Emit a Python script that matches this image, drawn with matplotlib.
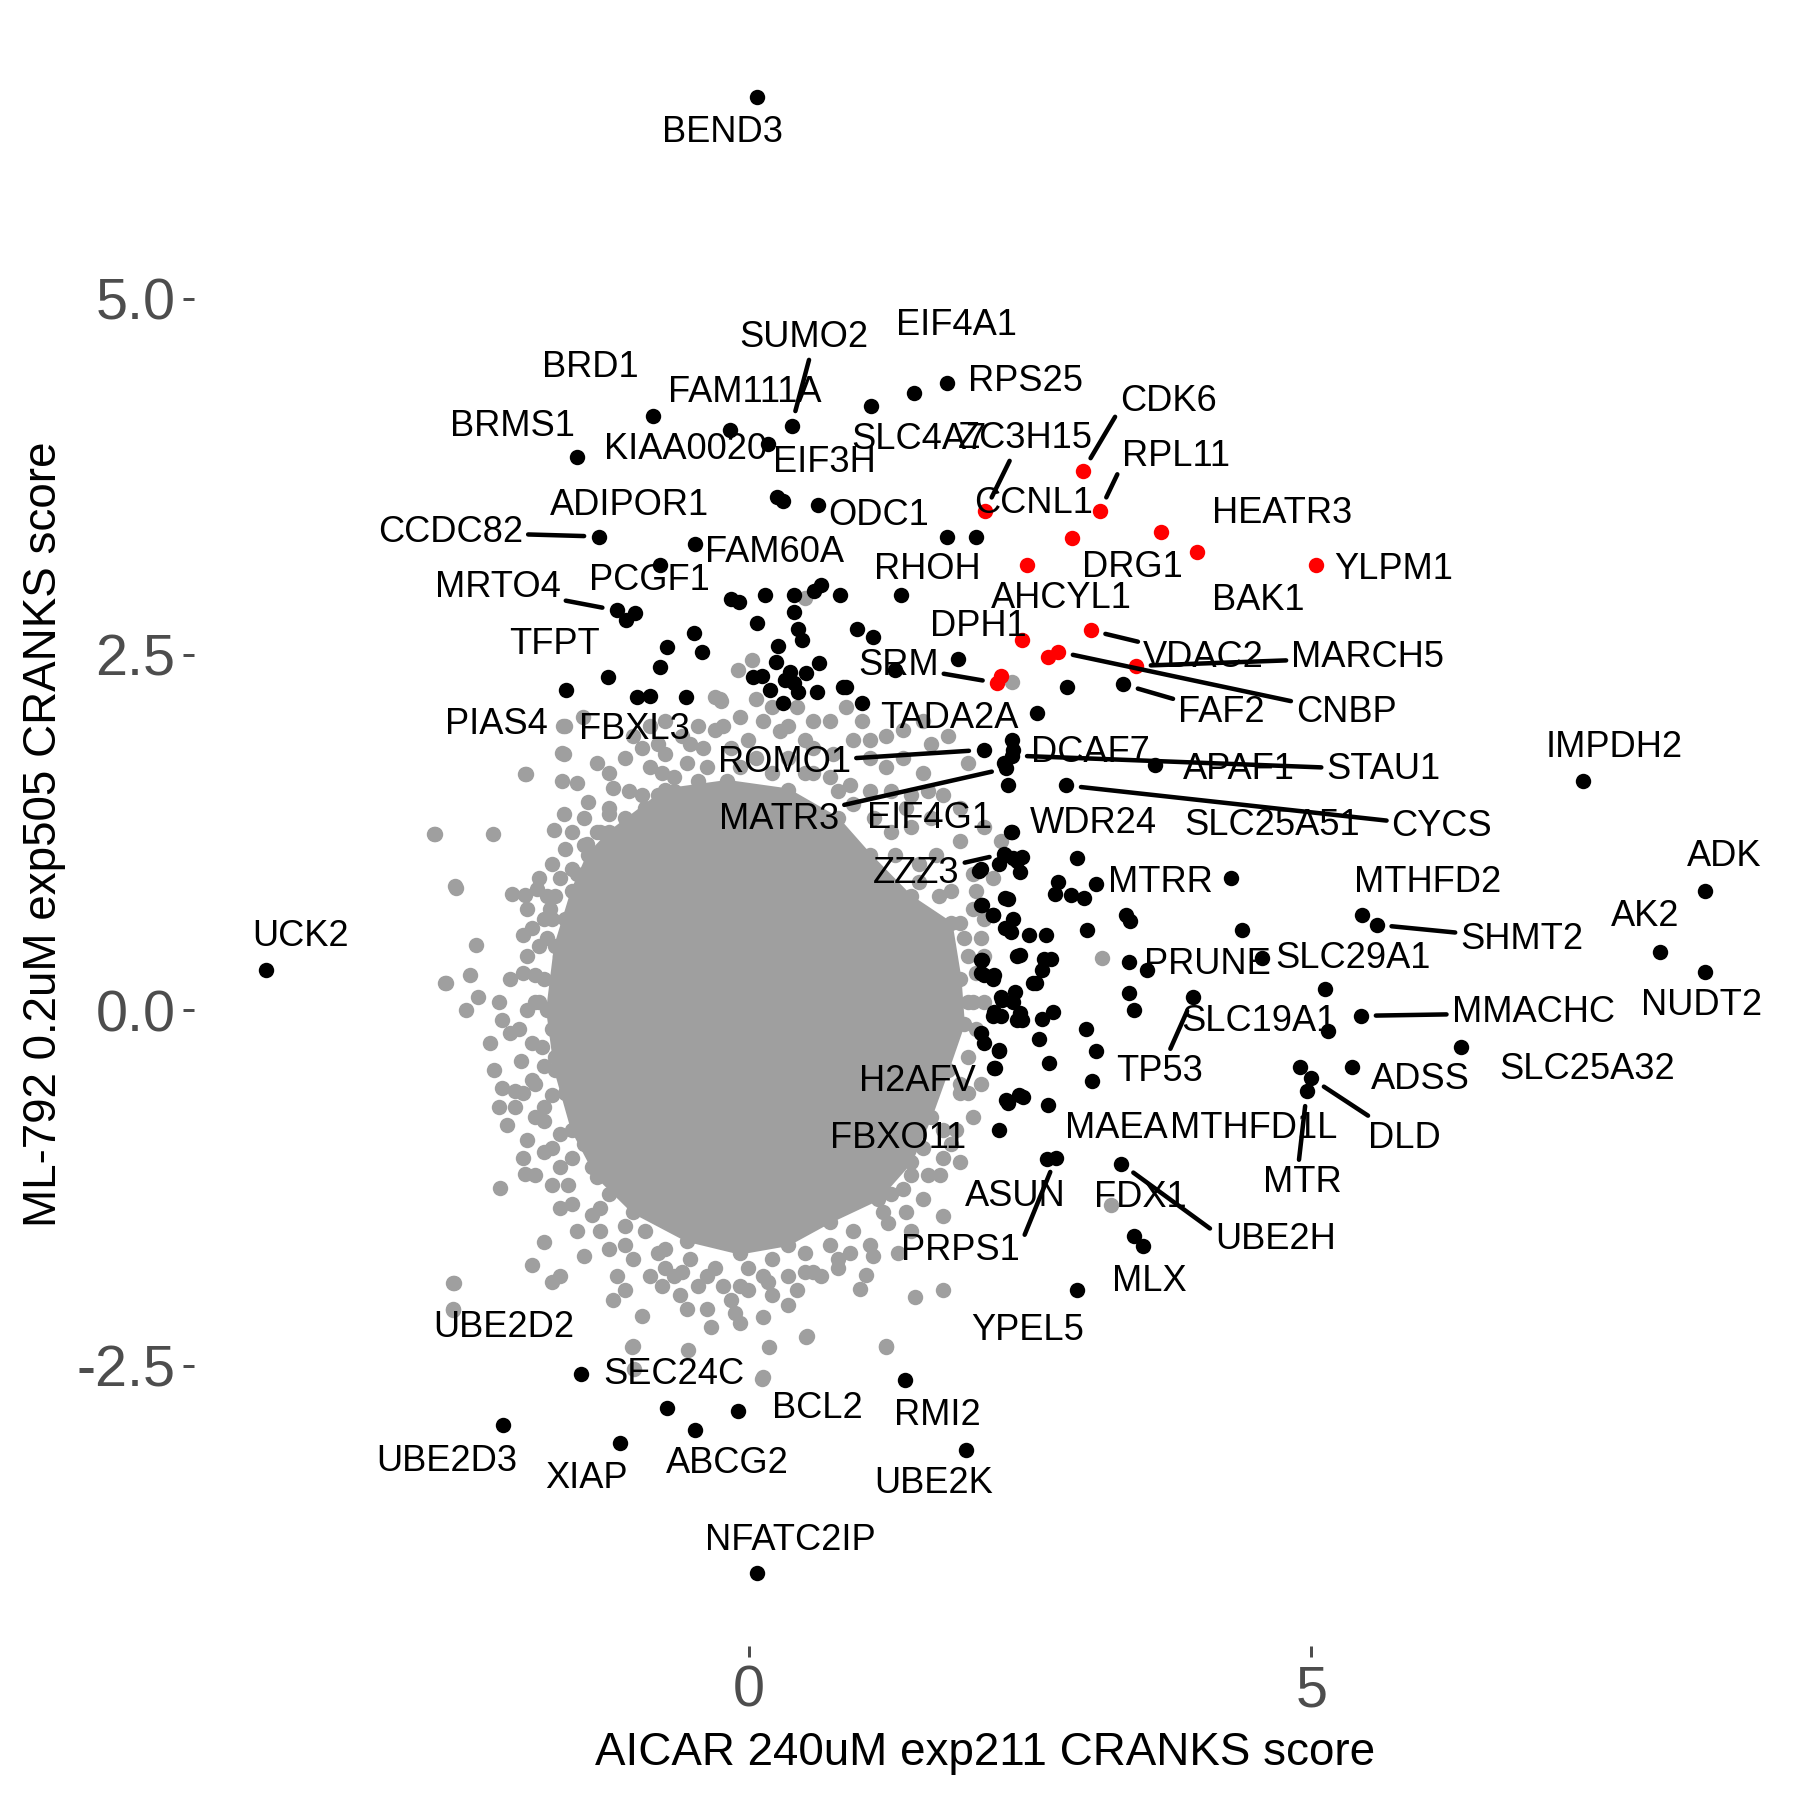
import matplotlib
matplotlib.use("Agg")
import matplotlib.pyplot as plt

plt.rcParams['font.family'] = ['Liberation Sans', 'DejaVu Sans']

GRAY = '#9F9F9F'

# ---------------- data ----------------
# dense core of the background (non-hit) genes: outline of the solid gray blob
core_x = [-1.24, -0.74, -0.19, 0.35, 0.79, 1.08, 1.44, 1.80, 1.88, 1.91, 1.77, 1.62, 1.44,
          1.15, 0.72, 0.35, -0.08, -0.55, -1.03, -1.35, -1.57, -1.72, -1.79, -1.72, -1.57, -1.43]
core_y = [1.25, 1.55, 1.61, 1.55, 1.35, 1.09, 0.80, 0.61, 0.22, -0.10, -0.42, -0.75, -1.07,
          -1.33, -1.49, -1.65, -1.71, -1.62, -1.42, -1.17, -0.84, -0.42, 0.00, 0.45, 0.84, 1.09]

# scattered background (gray) genes
gray_x = [-2.80, -2.60, -2.70, -2.42, -2.48, -2.51, -2.41, -2.21, -2.63, -2.63, -1.99, -1.66,
          -1.53, -1.63, -1.64, -1.35, -1.21, -1.43, -1.73, -1.35, -1.63, -1.44, -1.86, -1.68,
          -2.10, -1.99, -1.88, -1.79, -1.77, -2.01, -1.93, -1.75, -2.12, -2.01, -2.22, -2.19,
          -2.30, -2.12, -2.02, -2.26, -2.19, -2.08, -1.93, -2.22, -2.08, -2.15, -1.90, -2.01,
          -1.82, -1.99, -1.68, -1.57, -1.39, -1.82, -1.93, -1.75, -1.68, -1.46, -1.24, -1.17,
          -1.21, -1.10, -0.95, -1.03, -0.77, -0.66, -0.61, -0.55, -0.37, -0.34, -0.12, -0.08,
          0.13, 0.35, 0.52, 0.13, -0.23, -0.01, 0.17, 0.35, 0.57, 0.79, 1.04, 0.99, 1.24,
          1.37, 1.55, 1.70, 1.73, 1.48, 1.22, 1.10, 1.19, 1.80, 1.88, 1.95, 2.06, 1.99, 1.95,
          1.88, 1.99, 2.17, 2.24, 2.09, 1.88, 1.73, 1.55, 1.37, 1.22, 1.08, 0.90, 0.72, 0.93,
          1.08, 1.01, 0.72, 0.50, 0.28, 0.13, 0.43, 0.06, -0.26, -0.16, -0.41, -0.55, -0.66,
          -0.95, -1.10, -0.77, 1.95, 1.77, 1.55, 1.62, 1.66, 1.44, 1.26, 1.51, 1.80,
          -1.63, -1.57, -1.68, -1.82, -1.86, -1.75, -1.84, -1.72, -1.63, -1.75, -1.53, -1.68,
          -1.46, -1.57, -1.39, -1.24, -1.10, -0.92, -0.74, -0.52, -0.30, -0.01, 0.21, 0.50,
          0.72, 0.93, 1.26, 1.44, 1.55, 1.73, 1.88, 1.95, 1.91, 1.69, 1.51, 1.30, 1.11, 0.93,
          0.57, 0.21, -0.08, -0.37, -0.66, -0.92, -1.10, -1.24, -1.35, -1.53,
          0.03, -0.10, 0.50, -0.30, -0.25, -1.47, -1.65, -1.66, -1.98, -2.79, -2.27, -2.62,
          -2.63, -1.04, -0.54, -1.02, 1.22, 0.51, 0.18, 0.12, 2.34, 3.14, 3.22, -2.61, -2.69,
          -1.03, -0.88, -0.74, -0.59, -0.45, -0.30, -0.08, 0.21, 0.35, 0.57, 0.75, 1.22, 1.37,
          1.44, 1.62, 1.88, 1.99, 2.06, 2.09, 2.06, 1.99, 1.88, 1.73, 1.44, 1.33, 0.90, 0.64,
          0.425, 0.21, -0.16, -0.45, -0.74, -0.88, -1.03, -1.32, -1.53, -1.68, -1.75, -1.90,
          -1.97, -1.82, -2.01, -1.93, -2.04, -1.90, -1.97, -1.86, -1.82, -1.97, -1.75, -1.57,
          -1.24, -1.06, -0.88, -0.74, -1.64, -1.46,
          -1.24, -0.95, -0.81, -0.52, -0.23, -0.01, 0.35, 0.57, 0.86, 1.08, 1.26, 1.40, 1.59,
          -0.45, 0.06, 0.50, 0.79, -0.81,
          2.02, 2.09, 2.02, 2.09, 2.02, 1.95, 1.84, 1.73, 1.59, 1.40,
          1.08, 0.79, 0.50, 0.13, -0.08, -0.37, -0.59, -0.81, -1.10, -1.32,
          -1.61, -1.75, -1.82, -1.90, -1.82, -1.97, -1.90, -1.79, -1.72, -1.57, -1.46, -1.32]
gray_y = [1.24, 0.86, 0.19, 0.46, 0.25, 0.00, 0.09, -1.25, -1.92, -2.10, 1.66, 1.61,
          1.60, 2.00, 1.80, 1.74, 1.56, 1.46, 1.27, 1.25, 1.13, 1.17, 0.93, 0.93,
          0.82, 0.81, 0.85, 0.80, 0.71, 0.53, 0.58, 0.64, 0.22, 0.26, 0.06, -0.07,
          -0.23, -0.16, -0.36, -0.42, -0.55, -0.57, -0.49, -0.68, -0.68, -0.81, -0.75, -1.04,
          -1.00, -1.15, -1.10, -1.36, -1.44, -1.63, -1.79, -1.91, -1.87, -1.73, -1.68, -1.87,
          -2.04, -1.97, -2.15, -2.36, -1.94, -1.87, -2.00, -2.10, -2.10, -2.23, -2.13, -2.20,
          -2.16, -2.07, -2.29, -2.58, -1.94, -1.97, -1.91, -1.87, -1.84, -1.81, -1.86, -1.96, -1.50,
          -1.26, -1.33, -1.16, -1.97, -2.02, -2.36, -1.73, -1.42, -0.94, -0.58, -0.33, -0.16, 0.06, 0.38,
          0.61, 0.71, 0.93, 1.19, 1.29, 1.42, 1.51, 1.67, 1.77, 1.71, 1.54, 1.58, 1.64, 1.90,
          1.90, 2.03, 2.03, 1.90, 1.96, 2.03, 2.13, 2.19, 2.19, 1.84, 1.84, 1.74, 1.54,
          1.51, 1.77, 1.67, 1.74, 1.93, 2.03, 1.87, 1.09, 1.29, 1.25, 0.90, 0.84,
          0.64, 0.51, 0.38, 0.22, 0.06, -0.13, -0.26, -0.33, -0.58, -0.60, -0.75, -0.87,
          -0.94, -1.04, -1.10, -1.29, -1.52, -1.55, -1.68, -1.75, -1.81, -1.81, -1.75, -1.71,
          -1.65, -1.55, -1.29, -1.16, -0.97, -0.84, -0.52, 0.06, 0.51, 0.80, 1.03, 1.09, 1.35, 1.45,
          1.67, 1.67, 1.71, 1.71, 1.64, 1.42, 1.35, 1.42, 1.03, 0.96,
          2.46, 2.39, 2.90, 2.20, 2.17, 2.06, 2.00, 1.81, 1.66, 1.24, 1.24, -1.92,
          -2.11, -2.37, -2.39, -2.52, -2.37, -2.30, -2.37, -2.59, 2.31, 0.37, -1.37, 0.87, 0.19,
          1.93, 2.00, 2.03, 1.93, 2.00, 1.97, 2.06, 2.13, 1.77, 1.84, 1.80, 1.93, 1.97,
          1.51, 1.35, 1.19, 0.96, 0.51, 0.38, -0.52, -0.75, -1.07, -1.45, -1.55, -1.71, -1.71, -1.87,
          -1.97, -2.00, -2.04, -1.94, -1.81, -1.87, -1.75, -1.55, -1.55, -1.39, -1.23, -1.16,
          -0.91, -0.68, -0.58, -0.23, -0.13, 0.06, 0.38, 0.45, 0.64, 0.71, 1.03, 1.25,
          1.38, 1.54, 1.71, 1.80, 1.38, 1.35,
          1.67, 1.84, 1.87, 1.87, 2.00, 1.90, 2.00, 2.03, 2.13, 1.77, 1.54, 1.42, 1.54,
          1.61, 1.77, 1.67, 1.54, 1.51,
          0.84, 0.64, 0.26, 0.06, -0.13, -0.58, -0.84, -1.04, -1.16, -1.42,
          -1.65, -1.75, -1.84, -1.87, -1.94, -1.87, -1.84, -1.71, -1.65, -1.39,
          -1.23, -0.97, -0.78, -0.52, -0.39, 0.00, 0.25, 0.51, 0.80, 0.99, 1.16, 1.25]

# hits (black)
black_x = [0.07, -0.85, -0.17, 0.17, 0.38, -1.53, 1.09, 1.47, 1.76, 0.25, 0.30, 0.615,
           -1.33, -0.48, -0.79, -1.17, -1.01, -1.09, 1.76, 2.02, 1.35,
           -0.16, -0.09, 0.14, 0.40, 0.58, 0.64, 0.81, 0.40, 0.07, 0.44, 0.47, -0.49, -0.42,
           -0.73, -0.79, 0.26, 0.62, 0.24, 0.04, 0.12, 0.37, 0.32, 0.40, 0.44, 0.51, 0.19,
           0.30, 0.61, 0.84, -1.25, -1.62, -0.99, -0.88, -0.56, 0.96, 1.10, 1.01, 0.86,
           1.86, 1.30, 3.33, 2.83, 2.56, 2.09, 2.34, 2.35, 2.34, 2.27, 2.29, 2.30, 3.61,
           2.82, 2.34, 2.27, 2.22, 2.35, 2.43, 2.41, 2.05, 2.92, 3.09, 2.75, 2.72, 2.86,
           2.98, 4.29, 2.30, 2.07, 2.17, 2.35, 3.35, 3.39, 4.38, 3.01, 2.33, 2.49, 2.64,
           3.38, 3.54, 4.56, 2.41, 2.62, 2.69, 2.61, 2.53, 2.55, 2.07, 2.06, 2.18, 3.38,
           3.42, 3.95, 5.12, 2.37, 2.25, 3.00, 5.15, 2.18, 2.24, 2.41, 2.43, 2.61, 2.70,
           2.58, 2.22, 2.67, 3.09, 3.05, 2.19, 2.30, 2.44, 2.66, 2.22, 4.90, 5.00, 4.96,
           5.36, 2.65, 2.73, 3.31, 3.42, 3.50, 2.92, 1.385, 1.93, 0.07, -0.10, -0.73,
           -0.48, -1.49, -2.18, -1.14, -4.29, 7.41, 8.50, 8.10, 8.50, 5.45, 5.58, 5.44,
           6.33, 2.33, 2.28, 2.38, 2.06, 2.28, 2.06, 2.17, 2.28, 2.38, 2.06, 2.09, 2.17,
           2.24, 2.35, 2.17, 2.38, 2.06, 2.09, 2.22, 2.18, 2.29, 2.40]
black_y = [6.42, 4.18, 4.08, 3.98, 4.11, 3.89, 4.25, 4.34, 4.41, 3.61, 3.58, 3.55,
           3.33, 3.28, 3.13, 2.81, 2.79, 2.74, 3.33, 3.33, 2.92,
           2.89, 2.87, 2.92, 2.92, 2.95, 2.99, 2.92, 2.80, 2.72, 2.68, 2.60, 2.65, 2.52,
           2.55, 2.41, 2.56, 2.44, 2.45, 2.34, 2.35, 2.38, 2.32, 2.30, 2.24, 2.37, 2.25,
           2.16, 2.24, 2.27, 2.34, 2.25, 2.20, 2.21, 2.20, 2.68, 2.62, 2.16, 2.27,
           2.47, 2.39, 2.29, 2.27, 2.09, 1.83, 1.90, 1.83, 1.79, 1.74, 1.70, 1.58, 1.72,
           1.58, 1.25, 1.10, 1.03, 1.07, 1.08, 0.97, 0.98, 1.07, 0.89, 0.90, 0.82, 0.81,
           0.79, 0.93, 0.78, 0.74, 0.67, 0.64, 0.67, 0.63, 0.56, 0.56, 0.55, 0.53, 0.53,
           0.34, 0.28, 0.37, 0.39, 0.36, 0.36, 0.28, 0.19, 0.19, 0.35, 0.26, 0.25, 0.12,
           0.00, 0.09, 0.15, 0.13, 0.07, -0.13, -0.15, -0.01, -0.04, -0.02, -0.07, -0.06, -0.01,
           -0.20, -0.29, -0.37, -0.29, -0.50, -0.41, -0.65, -0.61, -0.67, -0.84, -0.40, -0.48, -0.57,
           -0.40, -1.05, -1.04, -1.08, -1.59, -1.66, -1.97, -2.60, -3.09, -3.96, -2.82, -2.80,
           -2.95, -2.56, -2.92, -3.04, 0.28, 1.61, 0.84, 0.41, 0.27, 0.67, 0.60, -0.04,
           -0.26, 1.25, 1.09, 1.05, 0.99, 0.79, 0.74, 0.67, 0.58, 0.38, 0.35, 0.25, 0.22,
           0.09, 0.06, -0.04, -0.07, -0.16, -0.23, -0.28, -0.41, -0.63, -0.60]

# highlighted hits (red)
red_x = [2.97, 3.12, 2.10, 2.87, 3.66, 3.98, 2.47, 5.04, 2.43, 3.04, 2.75, 2.66, 3.44, 2.24, 2.21]
red_y = [3.79, 3.51, 3.51, 3.32, 3.36, 3.22, 3.13, 3.13, 2.60, 2.67, 2.52, 2.48, 2.42, 2.35, 2.30]

# labelled genes: name and the data point it refers to
label_genes = ["BEND3", "SUMO2", "EIF4A1", "BRD1", "FAM111A", "RPS25", "CDK6", "BRMS1",
               "KIAA0020", "SLC4A7", "ZC3H15", "RPL11", "EIF3H", "ADIPOR1", "ODC1", "CCNL1",
               "HEATR3", "CCDC82", "FAM60A", "RHOH", "DRG1", "YLPM1", "MRTO4", "PCGF1",
               "AHCYL1", "BAK1", "DPH1", "TFPT", "SRM", "VDAC2", "MARCH5", "FAF2", "CNBP",
               "TADA2A", "PIAS4", "FBXL3", "IMPDH2", "ROMO1", "DCAF7", "APAF1", "STAU1",
               "MATR3", "EIF4G1", "WDR24", "SLC25A51", "CYCS", "ADK", "ZZZ3", "MTRR",
               "MTHFD2", "AK2", "SHMT2", "UCK2", "SLC29A1", "PRUNE", "NUDT2", "MMACHC",
               "SLC19A1", "SLC25A32", "TP53", "ADSS", "H2AFV", "MAEA", "MTHFD1L", "DLD",
               "FBXO11", "MTR", "ASUN", "FDX1", "UBE2H", "PRPS1", "MLX", "YPEL5", "UBE2D2",
               "SEC24C", "BCL2", "RMI2", "UBE2D3", "XIAP", "ABCG2", "UBE2K", "NFATC2IP"]
label_px = [0.07, 0.38, 1.47, -0.85, -0.17, 1.76, 2.97, -1.53,
            0.17, 1.09, 2.10, 3.12, 0.30, -1.33, 0.615, 2.02,
            3.98, -1.33, -0.48, 1.35, 3.66, 5.04, -1.17, -0.79,
            2.87, 3.98, 2.43, -1.62, 2.21, 3.04, 3.44, 3.33, 2.75,
            2.56, -1.62, -0.99, 7.41, 2.09, 2.34, 3.61, 2.34,
            2.29, 2.30, 2.34, 4.29, 2.82, 8.50, 2.27, 3.09,
            5.45, 8.10, 5.58, -4.29, 4.56, 3.54, 8.50, 5.44,
            5.15, 6.33, 3.95, 5.36, 2.19, 3.31, 4.90, 5.00,
            2.22, 4.96, 2.65, 3.31, 3.31, 2.73, 3.50, 2.92, -2.63,
            -1.49, -0.10, 1.385, -2.18, -1.14, -0.48, 1.93, 0.07]
label_py = [6.42, 4.11, 4.34, 4.18, 4.08, 4.41, 3.79, 3.89,
            3.98, 4.25, 3.51, 3.51, 3.58, 3.33, 3.55, 3.33,
            3.22, 3.33, 3.28, 2.92, 3.36, 3.13, 2.81, 3.13,
            3.32, 3.22, 2.60, 2.25, 2.30, 2.67, 2.42, 2.29, 2.52,
            2.09, 2.25, 2.20, 1.61, 1.83, 1.83, 1.72, 1.79,
            1.70, 1.58, 1.25, 0.93, 1.58, 0.84, 1.10, 0.89,
            0.67, 0.41, 0.60, 0.28, 0.37, 0.28, 0.27, -0.04,
            -0.15, -0.26, 0.09, -0.40, -0.41, -1.08, -0.40, -0.48,
            -0.84, -0.57, -1.05, -1.08, -1.08, -1.04, -1.66, -1.97, -2.11,
            -2.56, -2.82, -2.60, -2.92, -3.04, -2.95, -3.09, -3.96]

x_ticks = [0, 5]
x_ticklabels = ["0", "5"]
y_ticks = [-2.5, 0.0, 2.5, 5.0]
y_ticklabels = ["-2.5", "0.0", "2.5", "5.0"]
x_title = "AICAR 240uM exp211 CRANKS score"
y_title = "ML-792 0.2uM exp505 CRANKS score"

# ---------------- layout (label placement as repelled in the original) ----------------
# name: (label x, label y, draw segment, segment start on label box (relpos))
LABEL_POS = {
    "BEND3": (-0.23, 6.17, False, None), "SUMO2": (0.49, 4.73, True, (0.55, 0.0)),
    "EIF4A1": (1.85, 4.81, False, None), "BRD1": (-1.41, 4.52, False, None),
    "FAM111A": (-0.04, 4.34, False, None), "RPS25": (2.46, 4.42, False, None),
    "CDK6": (3.73, 4.28, True, (0.0, 0.3)), "BRMS1": (-2.10, 4.10, False, None),
    "KIAA0020": (-0.56, 3.94, False, None), "SLC4A7": (1.51, 4.01, False, None),
    "ZC3H15": (2.46, 4.02, True, (0.4, 0.0)), "RPL11": (3.80, 3.89, True, (0.0, 0.3)),
    "EIF3H": (0.67, 3.85, False, None), "ADIPOR1": (-1.06, 3.55, False, None),
    "ODC1": (1.15, 3.48, False, None), "CCNL1": (2.53, 3.56, False, None),
    "HEATR3": (4.74, 3.49, False, None), "CCDC82": (-2.65, 3.36, True, None),
    "FAM60A": (0.23, 3.22, False, None), "RHOH": (1.59, 3.10, False, None),
    "DRG1": (3.41, 3.11, False, None), "YLPM1": (5.73, 3.10, False, None),
    "MRTO4": (-2.23, 2.97, True, None), "PCGF1": (-0.88, 3.02, False, None),
    "AHCYL1": (2.78, 2.895, False, None), "BAK1": (4.53, 2.88, False, None),
    "DPH1": (2.04, 2.695, False, None), "TFPT": (-1.73, 2.57, False, None),
    "SRM": (1.33, 2.42, True, None), "VDAC2": (4.04, 2.48, True, None),
    "MARCH5": (5.50, 2.48, True, None), "FAF2": (4.20, 2.09, True, None),
    "CNBP": (5.31, 2.09, True, None), "TADA2A": (1.78, 2.05, False, None),
    "PIAS4": (-2.24, 2.01, False, None), "FBXL3": (-1.02, 1.97, False, None),
    "IMPDH2": (7.69, 1.85, False, None), "ROMO1": (0.32, 1.74, True, None),
    "DCAF7": (3.04, 1.81, False, None), "APAF1": (4.36, 1.69, False, None),
    "STAU1": (5.64, 1.69, True, None), "MATR3": (0.27, 1.34, True, None),
    "EIF4G1": (1.61, 1.35, False, None), "WDR24": (3.06, 1.31, False, None),
    "SLC25A51": (4.65, 1.30, False, None), "CYCS": (6.16, 1.29, True, None),
    "ADK": (8.67, 1.08, False, None), "ZZZ3": (1.49, 0.96, True, None),
    "MTRR": (3.66, 0.90, False, None), "MTHFD2": (6.03, 0.90, False, None),
    "AK2": (7.97, 0.66, False, None), "SHMT2": (6.87, 0.50, True, None),
    "UCK2": (-3.98, 0.52, False, None), "SLC29A1": (5.37, 0.36, False, None),
    "PRUNE": (4.08, 0.32, False, None), "NUDT2": (8.47, 0.03, False, None),
    "MMACHC": (6.97, -0.02, True, None), "SLC19A1": (4.53, -0.08, False, None),
    "SLC25A32": (7.45, -0.42, False, None), "TP53": (3.65, -0.43, True, (0.6, 1.0)),
    "ADSS": (5.97, -0.49, False, None), "H2AFV": (1.50, -0.50, False, None),
    "MAEA": (3.27, -0.83, False, None), "MTHFD1L": (4.49, -0.83, False, None),
    "DLD": (5.83, -0.90, True, (0.1, 1.0)), "FBXO11": (1.33, -0.90, False, None),
    "MTR": (4.92, -1.21, True, (0.45, 1.0)), "ASUN": (2.37, -1.31, False, None),
    "FDX1": (3.48, -1.32, False, None), "UBE2H": (4.68, -1.61, True, (0.0, 0.7)),
    "PRPS1": (1.88, -1.69, True, (1.0, 0.6)), "MLX": (3.56, -1.91, False, None),
    "YPEL5": (2.48, -2.25, False, None), "UBE2D2": (-2.18, -2.23, False, None),
    "SEC24C": (-0.67, -2.56, False, None), "BCL2": (0.61, -2.80, False, None),
    "RMI2": (1.68, -2.85, False, None), "UBE2D3": (-2.68, -3.17, False, None),
    "XIAP": (-1.44, -3.29, False, None), "ABCG2": (-0.19, -3.19, False, None),
    "UBE2K": (1.64, -3.33, False, None), "NFATC2IP": (0.37, -3.73, False, None),
}

# ---------------- plot ----------------
fig = plt.figure(figsize=(10, 10), dpi=180)
ax = fig.add_axes([0.1078, 0.0856, 0.8789, 0.9016])

ax.fill(core_x, core_y, facecolor=GRAY, edgecolor=GRAY, lw=1.0, zorder=1)
ax.scatter(core_x, core_y, s=38, color=GRAY, linewidths=0, zorder=1.5)
ax.scatter(gray_x, gray_y, s=38, color=GRAY, linewidths=0, zorder=2)
ax.scatter(black_x, black_y, s=38, color='black', linewidths=0, zorder=3)
ax.scatter(red_x, red_y, s=38, color='#FF0000', linewidths=0, zorder=4)

for name, px, py in zip(label_genes, label_px, label_py):
    lx, ly, seg, relpos = LABEL_POS[name]
    if seg:
        ap = dict(arrowstyle='-', color='black', lw=1.8, shrinkA=0, shrinkB=6)
        if relpos is not None:
            ap['relpos'] = relpos
        ax.annotate(name, xy=(px, py), xytext=(lx, ly), ha='center', va='center',
                    fontsize=14.5, color='black', zorder=5, arrowprops=ap)
    else:
        ax.text(lx, ly, name, ha='center', va='center', fontsize=14.5, color='black', zorder=5)

ax.set_xlim(-4.93, 9.13)
ax.set_ylim(-4.47, 6.94)
ax.set_xticks(x_ticks)
ax.set_xticklabels(x_ticklabels)
ax.set_yticks(y_ticks)
ax.set_yticklabels(y_ticklabels)
for s in ax.spines.values():
    s.set_visible(False)
ax.tick_params(axis='both', which='major', length=4.5, width=1.2, color='#4D4D4D',
               labelsize=23, labelcolor='#4D4D4D', pad=3)

fig.text(0.5475, 0.026, x_title, ha='center', va='center', fontsize=18.3, color='black')
fig.text(0.0242, 0.5364, y_title, ha='center', va='center', fontsize=18.3, color='black',
         rotation=90)

fig.savefig("out.png", dpi=180, facecolor='white')
